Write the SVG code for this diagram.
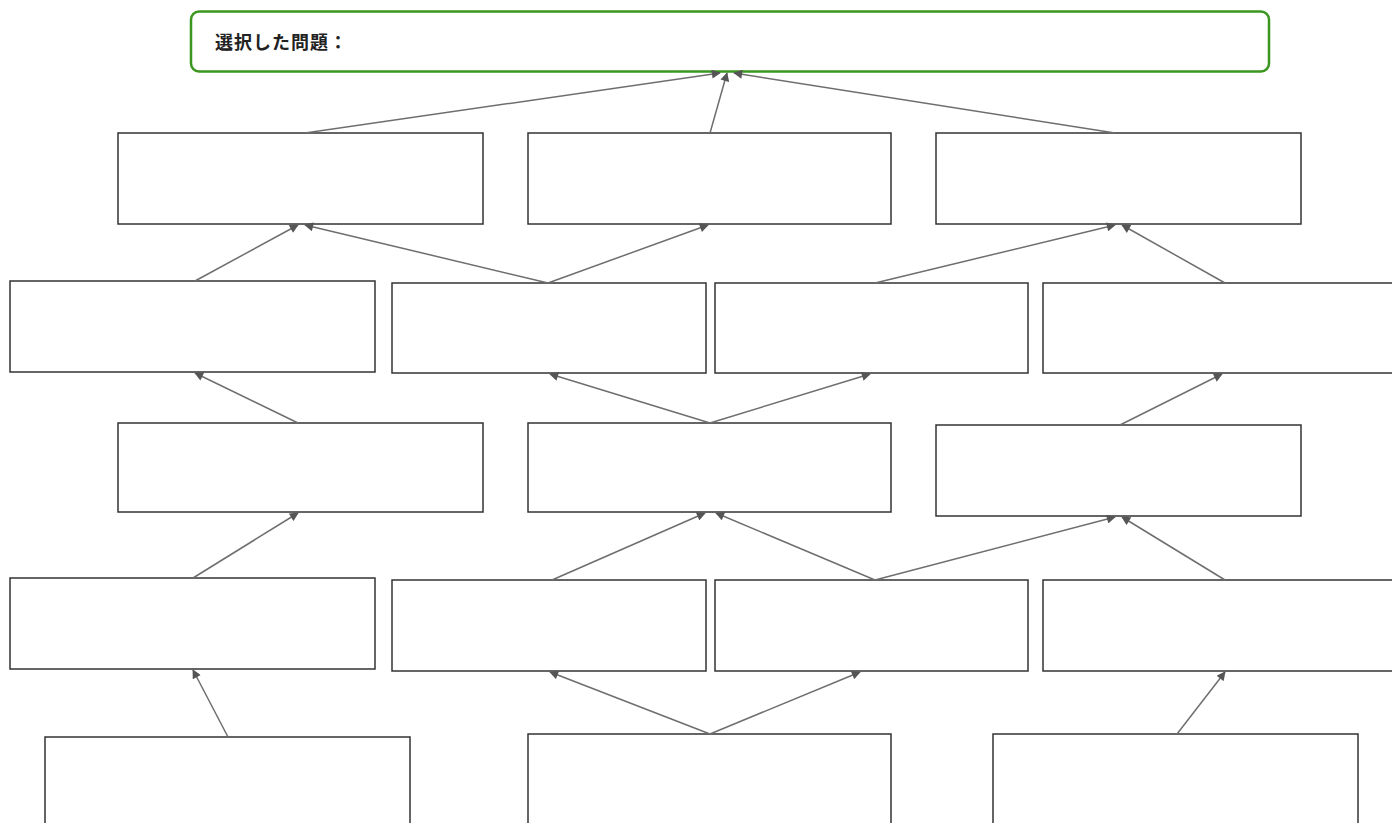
<svg xmlns="http://www.w3.org/2000/svg" width="1392" height="823" viewBox="0 0 1392 823">
<style>
.box{fill:#fff;stroke:#333;stroke-width:1.5}
.c{stroke:#6e6e6e;stroke-width:1.5;fill:none;marker-end:url(#ah)}
.t{font-family:"Noto Sans CJK JP","Liberation Sans",sans-serif;font-size:18px;font-weight:bold;fill:#222;letter-spacing:1px}
</style>
<defs>
<marker id="ah" viewBox="0 0 10 10" refX="9" refY="5" markerWidth="10" markerHeight="9" markerUnits="userSpaceOnUse" orient="auto">
<path d="M0,0 L10,5 L0,10 z" fill="#555"/>
</marker>
</defs>
<rect width="1392" height="823" fill="#fff"/>
<g id="top">
<rect x="191" y="11.5" width="1078" height="60" rx="8" fill="#fff" stroke="#3a961f" stroke-width="2.5"/>
<text class="t" x="215" y="49">選択した問題：</text>
</g>
<g id="r1">
<rect id="n1a" class="box" x="118" y="133" width="365" height="91"/>
<rect id="n1b" class="box" x="528" y="133" width="363" height="91"/>
<rect id="n1c" class="box" x="936" y="133" width="365" height="91"/>
</g>
<g id="r2">
<rect id="n2a" class="box" x="10" y="281" width="365" height="91"/>
<rect id="n2b" class="box" x="392" y="283" width="314" height="90"/>
<rect id="n2c" class="box" x="715" y="283" width="313" height="90"/>
<rect id="n2d" class="box" x="1043" y="283" width="370" height="90"/>
</g>
<g id="r3">
<rect id="n3a" class="box" x="118" y="423" width="365" height="89"/>
<rect id="n3b" class="box" x="528" y="423" width="363" height="89"/>
<rect id="n3c" class="box" x="936" y="425" width="365" height="91"/>
</g>
<g id="r4">
<rect id="n4a" class="box" x="10" y="578" width="365" height="91"/>
<rect id="n4b" class="box" x="392" y="580" width="314" height="91"/>
<rect id="n4c" class="box" x="715" y="580" width="313" height="91"/>
<rect id="n4d" class="box" x="1043" y="580" width="370" height="91"/>
</g>
<g id="r5">
<rect id="n5a" class="box" x="45" y="737" width="365" height="110"/>
<rect id="n5b" class="box" x="528" y="734" width="363" height="110"/>
<rect id="n5c" class="box" x="993" y="734" width="365" height="110"/>
</g>
<g id="connectors">
<line class="c" x1="305" y1="133" x2="720" y2="73"/>
<line class="c" x1="710" y1="133" x2="727" y2="73"/>
<line class="c" x1="1115" y1="133" x2="734" y2="73"/>
<line class="c" x1="195" y1="281" x2="298" y2="225"/>
<line class="c" x1="548" y1="283" x2="305" y2="225"/>
<line class="c" x1="548" y1="283" x2="708" y2="225"/>
<line class="c" x1="875" y1="283" x2="1115" y2="225"/>
<line class="c" x1="1225" y1="283" x2="1122" y2="225"/>
<line class="c" x1="298" y1="423" x2="195" y2="373"/>
<line class="c" x1="710" y1="423" x2="550" y2="374"/>
<line class="c" x1="710" y1="423" x2="870" y2="374"/>
<line class="c" x1="1120" y1="425" x2="1222" y2="374"/>
<line class="c" x1="193" y1="578" x2="298" y2="513"/>
<line class="c" x1="552" y1="580" x2="705" y2="513"/>
<line class="c" x1="875" y1="580" x2="716" y2="513"/>
<line class="c" x1="875" y1="580" x2="1115" y2="517"/>
<line class="c" x1="1225" y1="580" x2="1122" y2="517"/>
<line class="c" x1="228" y1="737" x2="193" y2="670"/>
<line class="c" x1="710" y1="734" x2="550" y2="672"/>
<line class="c" x1="710" y1="734" x2="860" y2="672"/>
<line class="c" x1="1177" y1="734" x2="1225" y2="672"/>
</g>
</svg>
